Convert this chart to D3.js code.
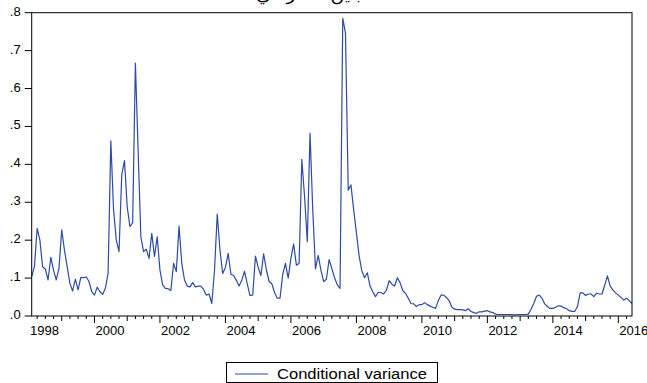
<!DOCTYPE html>
<html>
<head>
<meta charset="utf-8">
<script src="https://cdn.jsdelivr.net/npm/d3@7"></script>
<style>
  body { margin: 0; background: #fff; }
  svg { display: block; }
  text { font-family: "Liberation Sans", Arial, sans-serif; fill: #000; }
</style>
</head>
<body>
<script>
// monthly conditional variance, 1998M02 .. 2016M06
var start_year = 1998 ;
var start_month = 2 ;
var cond_var = [
  0.104, 0.13, 0.231, 0.2, 0.13, 0.124, 0.095, 0.155, 0.121, 0.095,
  0.126, 0.227, 0.174, 0.13, 0.086, 0.066, 0.097, 0.069, 0.102, 0.101,
  0.103, 0.091, 0.064, 0.055, 0.076, 0.064, 0.057, 0.073, 0.113, 0.462,
  0.28, 0.2, 0.17, 0.372, 0.41, 0.288, 0.236, 0.246, 0.667, 0.438,
  0.209, 0.17, 0.176, 0.152, 0.218, 0.157, 0.209, 0.121, 0.082, 0.073,
  0.072, 0.067, 0.139, 0.117, 0.237, 0.139, 0.095, 0.079, 0.077, 0.088,
  0.077, 0.079, 0.079, 0.070, 0.055, 0.058, 0.033, 0.12, 0.269, 0.174,
  0.112, 0.128, 0.165, 0.11,
  0.107, 0.094, 0.079, 0.094, 0.118, 0.085, 0.054, 0.055, 0.158, 0.128,
  0.107, 0.164, 0.122, 0.091, 0.085, 0.062, 0.047, 0.047, 0.11, 0.139,
  0.1, 0.152, 0.19, 0.134, 0.139, 0.413, 0.315, 0.196, 0.482, 0.28,
  0.124, 0.16, 0.121, 0.091, 0.097, 0.149, 0.125, 0.101, 0.082, 0.073,
  0.785, 0.746, 0.332, 0.346, 0.28, 0.22, 0.158, 0.119, 0.101, 0.114,
  0.079, 0.064, 0.051, 0.062, 0.062, 0.058, 0.068, 0.093, 0.084, 0.079,
  0.101, 0.088,
  0.067, 0.060, 0.047, 0.033, 0.032, 0.025, 0.030, 0.030, 0.035, 0.030,
  0.026, 0.023, 0.020, 0.040, 0.055, 0.055, 0.049, 0.040, 0.023, 0.018,
  0.017, 0.017, 0.016, 0.014, 0.019, 0.012, 0.009, 0.007, 0.011, 0.011,
  0.013, 0.014, 0.011, 0.009, 0.005, 0.004, 0.004, 0.004, 0.004, 0.004,
  0.004, 0.003, 0.004, 0.004, 0.004, 0.004, 0.005, 0.018, 0.033, 0.052,
  0.055, 0.047, 0.032, 0.025, 0.020, 0.020, 0.023, 0.027, 0.026, 0.022,
  0.019, 0.014, 0.012, 0.012, 0.025, 0.061, 0.061, 0.054, 0.058, 0.058,
  0.051, 0.060, 0.058, 0.058, 0.081, 0.106, 0.079, 0.069, 0.061, 0.055,
  0.049, 0.042, 0.047, 0.040, 0.033
];
var y_ticks = [0, 0.1, 0.2, 0.3, 0.4, 0.5, 0.6, 0.7, 0.8];
var year_labels = [1998, 2000, 2002, 2004, 2006, 2008, 2010, 2012, 2014, 2016];
var series_name = "Conditional variance";
var title_txt = "التباين الشرطي";

var W = 647, H = 383;
var frame = {left: 31.7, right: 632, top: 12.7, bottom: 316};
var line_col = "#2d4aa6";

// month index: 0 = Jan of start_year
var m0 = start_month - 1;
var m1 = m0 + cond_var.length - 1;

var x = d3.scaleLinear().domain([m0, m1]).range([frame.left, frame.right]);
var y = d3.scaleLinear().domain([0, 0.8]).range([frame.bottom, frame.top]);

var svg = d3.select("body").append("svg")
    .attr("width", W).attr("height", H);

// title, mostly cut by the top edge (only the lowest marks show)
svg.append("text")
    .attr("x", 317).attr("y", 0)
    .attr("text-anchor", "middle")
    .attr("textLength", 122)
    .attr("lengthAdjust", "spacingAndGlyphs")
    .style("font-family", "'DejaVu Sans', sans-serif")
    .style("font-size", "16px")
    .text(title_txt);

// y axis : ticks and labels
var yg = svg.append("g").attr("class", "yaxis");
yg.selectAll("line").data(y_ticks).enter().append("line")
    .attr("x1", frame.left - 7).attr("x2", frame.left)
    .attr("y1", function(d) { return y(d); })
    .attr("y2", function(d) { return y(d); })
    .attr("stroke", "#000").attr("stroke-width", 1);
yg.selectAll("text").data(y_ticks).enter().append("text")
    .attr("x", frame.left - 11)
    .attr("y", function(d) { return y(d) + 3; })
    .attr("text-anchor", "end")
    .style("font-size", "13px")
    .text(function(d) { return d3.format(".1f")(d).replace(/^0/, ""); });

// x axis : quarterly ticks, longer on years
var xg = svg.append("g").attr("class", "xaxis");
var q_ticks = d3.range(0, m1 + 1, 3).filter(function(m) { return x(m) >= frame.left; });
xg.selectAll("line").data(q_ticks).enter().append("line")
    .attr("x1", function(d) { return x(d); })
    .attr("x2", function(d) { return x(d); })
    .attr("y1", frame.bottom)
    .attr("y2", function(d) { return frame.bottom + (d % 24 == 0 ? 7 : (d % 12 == 0 ? 5 : 3)); })
    .attr("stroke", "#000").attr("stroke-width", 1);
xg.selectAll("text").data(year_labels).enter().append("text")
    .attr("x", function(d) { return x((d - start_year) * 12) + 1; })
    .attr("y", frame.bottom + 19)
    .attr("textLength", 29)
    .attr("lengthAdjust", "spacingAndGlyphs")
    .style("font-size", "13px")
    .text(function(d) { return d; });

// the series
var line = d3.line()
    .x(function(d, i) { return x(m0 + i); })
    .y(function(d) { return y(d); });
svg.append("path")
    .datum(cond_var)
    .attr("d", line)
    .attr("fill", "none")
    .attr("stroke", line_col)
    .attr("stroke-width", 1.2)
    .attr("stroke-linejoin", "round");

// frame
svg.append("rect")
    .attr("x", frame.left).attr("y", frame.top)
    .attr("width", frame.right - frame.left)
    .attr("height", frame.bottom - frame.top)
    .attr("fill", "none").attr("stroke", "#000").attr("stroke-width", 1);

// legend
var lg = svg.append("g").attr("class", "legend");
lg.append("rect")
    .attr("x", 226.5).attr("y", 362.5)
    .attr("width", 211).attr("height", 20)
    .attr("fill", "#fff").attr("stroke", "#000").attr("stroke-width", 1);
lg.append("line")
    .attr("x1", 235).attr("x2", 268)
    .attr("y1", 374).attr("y2", 374)
    .attr("stroke", line_col).attr("stroke-width", 1.2);
lg.append("text")
    .attr("x", 277).attr("y", 378.5)
    .attr("textLength", 150)
    .attr("lengthAdjust", "spacingAndGlyphs")
    .style("font-size", "14px")
    .text(series_name);
</script>
</body>
</html>
